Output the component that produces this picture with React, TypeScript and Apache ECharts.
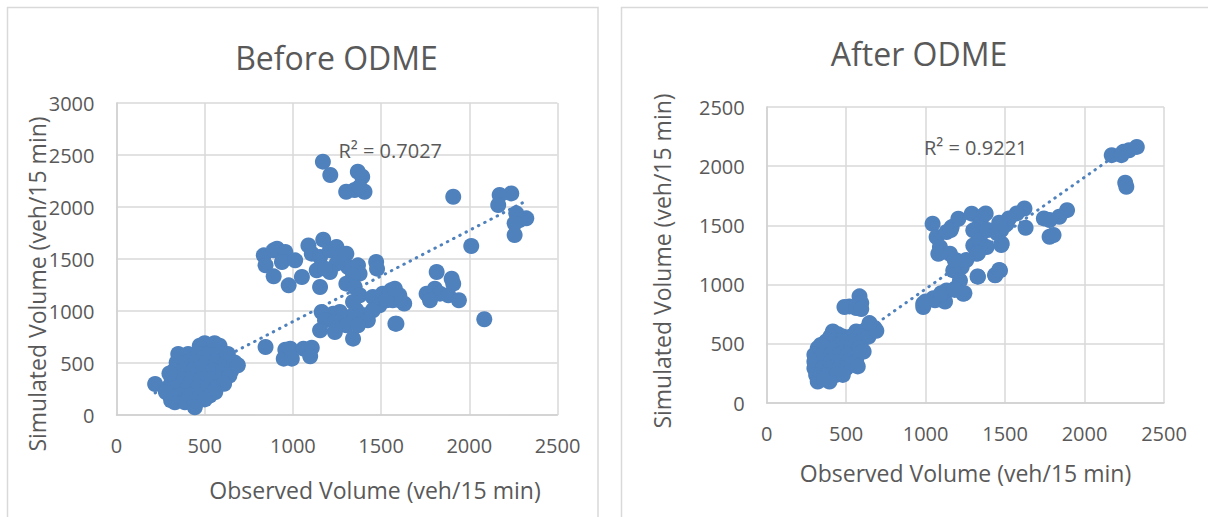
import React, { useEffect, useRef } from "react";
import * as echarts from "echarts";

// ---------- data ----------
const xTicksBefore = [0, 500, 1000, 1500, 2000, 2500];
const yTicksBefore = [0, 500, 1000, 1500, 2000, 2500, 3000];
const xTicksAfter = [0, 500, 1000, 1500, 2000, 2500];
const yTicksAfter = [0, 500, 1000, 1500, 2000, 2500];

const beforeTitle = "Before ODME";
const afterTitle = "After ODME";
const xAxisTitle = "Observed Volume (veh/15 min)";
const yAxisTitle = "Simulated Volume (veh/15 min)";
const beforeR2 = "R² = 0.7027";
const afterR2 = "R² = 0.9221";

// linear trend lines (slope, intercept)
const beforeTrend = [0.8775, 20];
const afterTrend = [0.944, 19];

// Observed vs simulated, before ODME
const beforeODME: [number, number][] = [
  // dense low-volume cluster
  [472, 667], [528, 667], [584, 667], [500, 690], [556, 690],
  [350, 587], [406, 587], [463, 587], [519, 587], [575, 587], [631, 587], [380, 560],
  [341, 506], [397, 506], [453, 506], [509, 506], [566, 506], [622, 506], [669, 506],
  [326, 426], [378, 426], [435, 426], [491, 426], [547, 426], [603, 426], [650, 426],
  [313, 346], [369, 346], [425, 346], [481, 346], [538, 346], [594, 346], [640, 380],
  [294, 266], [350, 266], [406, 266], [463, 266], [519, 266], [566, 266], [610, 300],
  [303, 186], [360, 186], [416, 186], [472, 186], [528, 186], [560, 220],
  [331, 122], [388, 122], [444, 122], [310, 140], [500, 150],
  [444, 74], [219, 298], [688, 478], [280, 220], [300, 400],
  // mid range
  [835, 1535], [845, 1439], [891, 1583], [910, 1599], [957, 1567], [891, 1333], [938, 1471],
  [1013, 1487], [976, 1247], [1051, 1327], [1088, 1631], [1107, 1551], [1172, 1686], [1154, 1519],
  [1135, 1391], [1154, 1231], [1210, 1583], [1247, 1615], [1275, 1535], [1303, 1551], [1313, 1423],
  [1247, 1455], [1210, 1375], [1182, 1407], [1369, 1439], [1378, 1359], [1341, 1343], [1303, 1263],
  [1350, 1231], [1378, 1151], [1472, 1471], [1477, 1407],
  [1453, 1135], [1509, 1167], [1556, 1199], [1603, 1151], [1631, 1071], [1566, 1103], [1491, 1055],
  [1453, 1007], [1425, 911], [1406, 958], [1360, 1007], [1341, 1087], [1322, 942], [1266, 990],
  [1229, 974], [1163, 990], [1182, 910], [1238, 894], [1303, 862], [1154, 814], [1238, 798],
  [1341, 734], [1581, 878], [1369, 862],
  [845, 654], [957, 628], [948, 542], [994, 542], [985, 638], [1060, 638], [1107, 647], [1098, 564],
  // high range
  [1909, 2099], [2172, 2115], [2238, 2131], [2164, 2019], [2266, 1939], [2323, 1891], [2285, 1875],
  [2257, 1843], [2257, 1731], [2011, 1625],
  [1170, 2436], [1212, 2308], [1368, 2340], [1393, 2292], [1302, 2147], [1350, 2163], [1406, 2147],
  [1378, 2192],
  [1815, 1375], [1900, 1311], [1909, 1263], [1758, 1167], [1805, 1215], [1834, 1167], [1777, 1103],
  [1881, 1151], [1941, 1103], [1550, 1167], [1607, 1103], [1531, 1103], [1578, 1215], [1587, 878],
  [2085, 921],
];

// Observed vs simulated, after ODME
const afterODME: [number, number][] = [
  // dense low-volume cluster
  [636, 633], [678, 633],
  [416, 604], [563, 604], [605, 604], [450, 580],
  [479, 562], [531, 562], [584, 562], [400, 560],
  [374, 520], [426, 520], [479, 520], [542, 520], [594, 520], [640, 560],
  [321, 463], [374, 463], [426, 463], [479, 463], [531, 463], [584, 463], [340, 490],
  [300, 407], [353, 407], [405, 407], [458, 407], [510, 407], [573, 407],
  [300, 350], [353, 350], [405, 350], [458, 350], [510, 350], [563, 350],
  [300, 294], [353, 294], [405, 294], [458, 294], [500, 294], [540, 330],
  [311, 237], [374, 237], [437, 237], [479, 237], [330, 210],
  [321, 181], [395, 181], [360, 200],
  [573, 309], [610, 435], [690, 610], [647, 675],
  [584, 901], [595, 845], [521, 816], [489, 811], [563, 802], [595, 794],
  // mid range
  [1044, 1514], [1069, 1401], [1090, 1317], [1080, 1261], [1132, 1444], [1164, 1486], [1206, 1556],
  [1290, 1599], [1363, 1584], [1342, 1514], [1300, 1458], [1300, 1331], [1342, 1373], [1321, 1261],
  [1384, 1317], [1458, 1458], [1479, 1345], [1510, 1514], [1195, 1204], [1227, 1148], [1174, 1120],
  [1153, 1261], [1327, 1069], [1437, 1078], [1468, 1120], [1216, 1035], [1237, 923], [1185, 965],
  [1111, 895], [1059, 867], [985, 839], [985, 810], [1132, 951],
  [1158, 1461], [1378, 1601], [1390, 1461], [1329, 1264], [1256, 1208], [1183, 1208], [1244, 927],
  [1122, 857], [1049, 885], [1000, 857], [1098, 927], [1183, 955],
  [1622, 1643], [1629, 1480], [1573, 1601], [1524, 1559], [1476, 1461], [1476, 1334], [1451, 1433],
  [1463, 1522], [1439, 1081], [1463, 1124], [1329, 1067],
  // high range
  [1890, 1629], [1841, 1573], [1780, 1545], [1744, 1559], [1780, 1404], [1805, 1419],
  [2171, 2093], [2232, 2093], [2280, 2135], [2329, 2163], [2244, 2121], [2256, 1860], [2263, 1826],
];

// ---------- helpers ----------
const FONT = "'Open Sans', 'Noto Sans', sans-serif";
const TEXT = "#595959";
const BLUE = "#4F81BD";
const GRID = "#d9d9d9";

function trendPoints(pts: [number, number][], coef: number[]) {
  const xs = pts.map((p) => p[0]);
  const lo = Math.min(...xs);
  const hi = Math.max(...xs);
  return [
    [lo, coef[0] * lo + coef[1]],
    [hi, coef[0] * hi + coef[1]],
  ];
}

function makeAxis(ticks: number[], gridIndex: number, isX: boolean) {
  return {
    type: "value",
    gridIndex,
    min: ticks[0],
    max: ticks[ticks.length - 1],
    interval: ticks[1] - ticks[0],
    axisLine: { show: true, lineStyle: { color: "#d0d0d0", width: 1.5 } },
    axisTick: { show: false },
    splitLine: { show: true, lineStyle: { color: GRID, width: 1.5 } },
    axisLabel: {
      color: TEXT,
      fontFamily: FONT,
      fontSize: 20,
      margin: isX ? 20 : 22,
      formatter: (v: number) => String(v),
    },
  };
}

export default function App() {
  const ref = useRef<HTMLDivElement>(null);

  useEffect(() => {
    if (!ref.current) return;
    const chart = echarts.init(ref.current, undefined, { renderer: "svg" });

    const trendStyle = { color: BLUE, width: 3, type: [0.5, 6.5], cap: "round" };
    const option: any = {
      animation: false,
      backgroundColor: "#ffffff",
      grid: [
        { left: 116.5, top: 103, width: 441, height: 312 },
        { left: 766.7, top: 107, width: 397.3, height: 296 },
      ],
      xAxis: [makeAxis(xTicksBefore, 0, true), makeAxis(xTicksAfter, 1, true)],
      yAxis: [makeAxis(yTicksBefore, 0, false), makeAxis(yTicksAfter, 1, false)],
      series: [
        {
          type: "line",
          xAxisIndex: 0,
          yAxisIndex: 0,
          data: trendPoints(beforeODME, beforeTrend),
          showSymbol: false,
          symbol: "none",
          lineStyle: trendStyle,
          z: 1,
        },
        {
          type: "scatter",
          xAxisIndex: 0,
          yAxisIndex: 0,
          data: beforeODME,
          symbol: "circle",
          symbolSize: 16,
          itemStyle: { color: BLUE, opacity: 1 },
          z: 2,
        },
        {
          type: "line",
          xAxisIndex: 1,
          yAxisIndex: 1,
          data: trendPoints(afterODME, afterTrend),
          showSymbol: false,
          symbol: "none",
          lineStyle: trendStyle,
          z: 1,
        },
        {
          type: "scatter",
          xAxisIndex: 1,
          yAxisIndex: 1,
          data: afterODME,
          symbol: "circle",
          symbolSize: 16,
          itemStyle: { color: BLUE, opacity: 1 },
          z: 2,
        },
      ],
      graphic: [
        {
          type: "rect",
          z: -10,
          shape: { x: 7.5, y: 7.5, width: 590.5, height: 530 },
          style: { fill: "none", stroke: GRID, lineWidth: 1.5 },
        },
        {
          type: "rect",
          z: -10,
          shape: { x: 621.5, y: 7.5, width: 620, height: 530 },
          style: { fill: "none", stroke: GRID, lineWidth: 1.5 },
        },
        {
          type: "text",
          x: 336.5,
          y: 57,
          style: { text: beforeTitle, fill: TEXT, font: `32px ${FONT}`, textAlign: "center", textVerticalAlign: "middle" },
        },
        {
          type: "text",
          x: 919,
          y: 53,
          style: { text: afterTitle, fill: TEXT, font: `32px ${FONT}`, textAlign: "center", textVerticalAlign: "middle" },
        },
        {
          type: "text",
          x: 375,
          y: 490,
          style: { text: xAxisTitle, fill: TEXT, font: `23px ${FONT}`, textAlign: "center", textVerticalAlign: "middle" },
        },
        {
          type: "text",
          x: 965.5,
          y: 473,
          style: { text: xAxisTitle, fill: TEXT, font: `23px ${FONT}`, textAlign: "center", textVerticalAlign: "middle" },
        },
        {
          type: "text",
          x: 37,
          y: 284,
          rotation: Math.PI / 2,
          style: { text: yAxisTitle, fill: TEXT, font: `23px ${FONT}`, textAlign: "center", textVerticalAlign: "middle" },
        },
        {
          type: "text",
          x: 662,
          y: 261,
          rotation: Math.PI / 2,
          style: { text: yAxisTitle, fill: TEXT, font: `23px ${FONT}`, textAlign: "center", textVerticalAlign: "middle" },
        },
        {
          type: "text",
          x: 338.5,
          y: 150,
          z: 10,
          style: { text: beforeR2, fill: TEXT, font: `20px ${FONT}`, textAlign: "left", textVerticalAlign: "middle" },
        },
        {
          type: "text",
          x: 924,
          y: 147,
          z: 10,
          style: { text: afterR2, fill: TEXT, font: `20px ${FONT}`, textAlign: "left", textVerticalAlign: "middle" },
        },
      ],
    };

    chart.setOption(option);
    return () => chart.dispose();
  }, []);

  return (
    <div
      ref={ref}
      style={{ position: "absolute", left: 0, top: 0, width: 1208, height: 517, overflow: "hidden" }}
    />
  );
}
